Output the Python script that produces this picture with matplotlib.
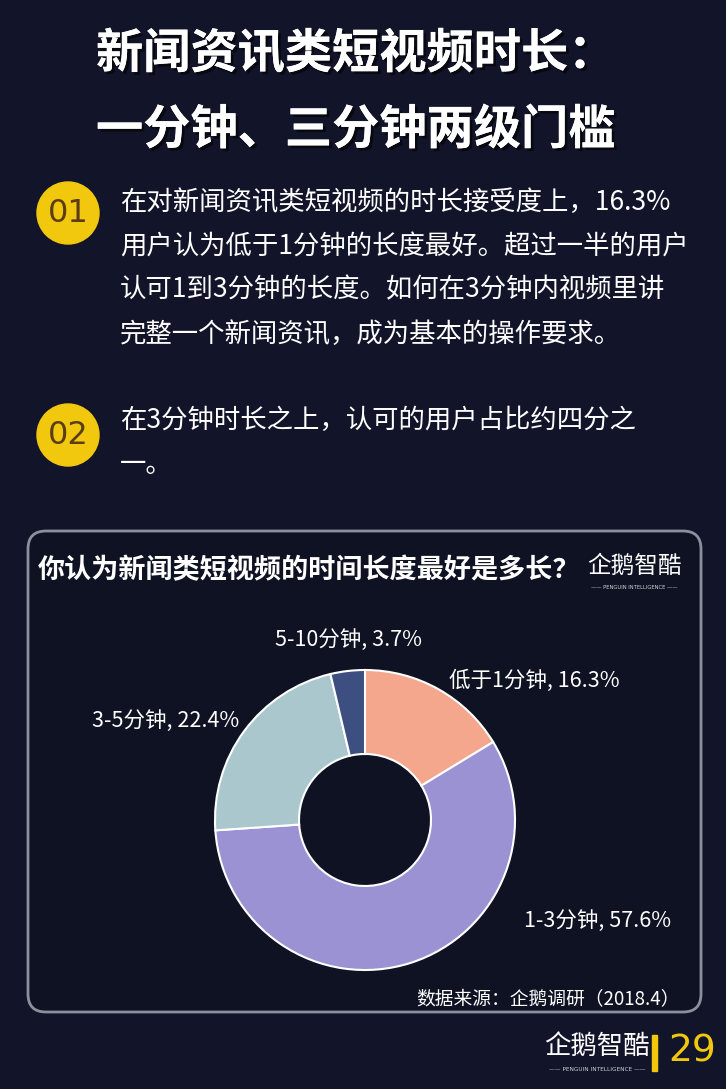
import matplotlib.pyplot as plt
from matplotlib.patches import FancyBboxPatch, Circle, Rectangle
import matplotlib.patheffects as pe

plt.rcParams['font.family'] = ['Noto Sans CJK SC', 'DejaVu Sans']

# data
categories = ['低于1分钟', '1-3分钟', '3-5分钟', '5-10分钟']
shares = [16.3, 57.6, 22.4, 3.7]
colors = ['#f4a78c', '#9a92d2', '#a9c7cd', '#3d4f80']

title_lines = ['新闻资讯类短视频时长：', '一分钟、三分钟两级门槛']
point1 = ['在对新闻资讯类短视频的时长接受度上，16.3%',
          '用户认为低于1分钟的长度最好。超过一半的用户',
          '认可1到3分钟的长度。如何在3分钟内视频里讲',
          '完整一个新闻资讯，成为基本的操作要求。']
point2 = ['在3分钟时长之上，认可的用户占比约四分之',
          '一。']
chart_title = '你认为新闻类短视频的时间长度最好是多长？'
source = '数据来源：企鹅调研（2018.4）'
page_no = '29'

BG = '#12152a'
W, H = 726, 1089

fig = plt.figure(figsize=(W / 100, H / 100), dpi=100, facecolor=BG)

# full-figure axes in pixel coordinates (y downwards)
bg = fig.add_axes([0, 0, 1, 1])
bg.set_xlim(0, W)
bg.set_ylim(H, 0)
bg.axis('off')

shadow = [pe.withSimplePatchShadow(offset=(2, -2), shadow_rgbFace='black', alpha=0.6), pe.Normal()]
for i, line in enumerate(title_lines):
    bg.text(96, 54 + i * 76, line, color='white', fontsize=34, fontweight='bold',
            ha='left', va='center', path_effects=shadow)

def badge(y, label):
    bg.add_patch(Circle((68, y), 31, color='#f2c80f', zorder=2))
    bg.text(68, y + 1, label, color='#5b3c14', fontsize=23, ha='center', va='center',
            family=['DejaVu Sans'], zorder=3)

badge(213, '01')
for i, line in enumerate(point1):
    bg.text(120, 202 + i * 44, line, color='white', fontsize=19, fontweight='light',
            ha='left', va='center')
badge(435, '02')
for i, line in enumerate(point2):
    bg.text(120, 420 + i * 44, line, color='white', fontsize=19, fontweight='light',
            ha='left', va='center')

# card
bg.add_patch(FancyBboxPatch((28, 531), 673, 481, boxstyle='round,pad=0,rounding_size=18',
                            facecolor='#0f1223', edgecolor='#8c8f9c', linewidth=2))
bg.text(38, 570, chart_title, color='white', fontsize=19.5, fontweight='bold',
        ha='left', va='center')

def logo(x, y, size):
    bg.text(x, y, '企鹅智酷', color='white', fontsize=size, ha='center', va='center')
    bg.text(x, y + size * 1.25, '—— PENGUIN INTELLIGENCE ——', color='#cfd2da',
            fontsize=size * 0.22, ha='center', va='center', family=['DejaVu Sans'])

logo(634, 566, 17)
bg.text(680, 1000, source, color='white', fontsize=13.5, ha='right', va='center')

# footer
logo(597, 1046, 19)
bg.add_patch(Rectangle((652, 1035), 5, 36, color='#f2c80f'))
bg.text(668, 1052, page_no, color='#f2c80f', fontsize=27, ha='left', va='center',
        family=['DejaVu Sans'])

# donut chart: 1 data unit = 150 px, centre at (365, 820)
ax = fig.add_axes([(365 - 300) / W, (H - 820 - 300) / H, 600 / W, 600 / H])
ax.set_facecolor('none')
wedges, _ = ax.pie(shares, colors=colors, startangle=90, counterclock=False,
                   radius=1.0, wedgeprops=dict(width=0.56, edgecolor='white', linewidth=1.5))
ax.set_xlim(-2, 2)
ax.set_ylim(-2, 2)
ax.set_aspect('equal')

label_pos = [(0.56, 0.93, 'left'), (1.06, -0.67, 'left'), (-0.84, 0.66, 'right'), (-0.11, 1.2, 'center')]
for name, val, (lx, ly, ha) in zip(categories, shares, label_pos):
    ax.text(lx, ly, f'{name}, {val}%', color='white', fontsize=15.5, ha=ha, va='center')

fig.savefig('out.png', dpi=100, facecolor=BG)
